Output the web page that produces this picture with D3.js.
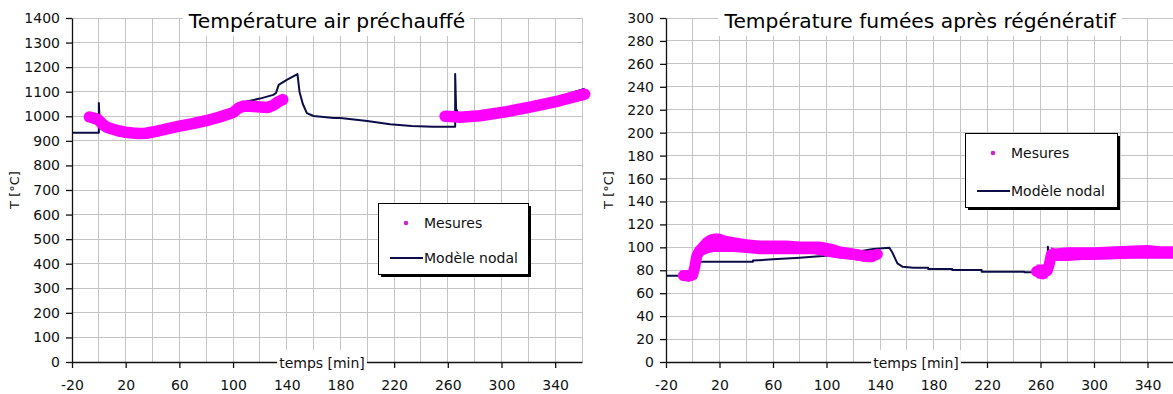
<!DOCTYPE html>
<html><head><meta charset="utf-8">
<script src="https://cdn.jsdelivr.net/npm/d3@7"></script>
<style>
body{margin:0;background:#fff;}
svg{display:block;font-family:"DejaVu Sans",Verdana,sans-serif;}
</style>
</head><body>
<svg id="c" width="1173" height="394"></svg>
<script>
// ---------- data ----------
const xTickValues = [-20,20,60,100,140,180,220,260,300,340];
const xGridValues = [0,20,40,60,80,100,120,140,160,180,200,220,240,260,280,300,320,340,360];
const airTickValues = [0,100,200,300,400,500,600,700,800,900,1000,1100,1200,1300,1400];
const fumTickValues = [0,20,40,60,80,100,120,140,160,180,200,220,240,260,280,300];
const titles = ["Température air préchauffé", "Température fumées après régénératif"];
const legendLabels = ["Mesures", "Modèle nodal"];
const xLabel = "temps [min]";
const yLabel = "T [°C]";

// Left chart: model [t, T]
const airModel = [[-20,933],[0,933],[0,1054],[0.6,985],[2,972],[5,957],[10,942],[15,930],[20,925],[30,922],[40,928],[50,940],[60,955],[70,966],[80,978],[90,995],[100,1030],[104,1045],[110,1060],[120,1072],[130,1087],[132,1095],[134,1128],[140,1148],[148,1172],[149.5,1100],[152,1050],[155,1013],[160,1001],[175,993],[180,993],[200,981],[217,968],[233,960],[249,957],[265.5,957],[265.5,1172],[266.2,1030],[268,1010],[272,998],[285,1003],[300,1018],[320,1045],[340,1075],[362,1112]];
// Left chart: measurements [t, T], first and second runs
const airMes1 = [[-7,997],[-4,993],[-1,988],[1,978],[3,966],[6,955],[10,948],[15,940],[20,935],[25,932],[30,930],[35,931],[40,936],[50,948],[60,960],[70,970],[80,982],[90,997],[100,1015],[104,1033],[108,1042],[115,1040],[120,1038],[126,1036],[130,1045],[134,1060],[137,1068]];
const airMes2 = [[258,1000],[262,999],[269,996],[284,1002],[304,1019],[323,1039],[343,1063],[362,1090]];

// Right chart: model [t, T]
const fumModel = [[-20,75.3],[-7.5,75.3],[-1,76],[0,80],[1.5,88],[3,89],[5,87.5],[45,87.5],[45,88.5],[60,89.5],[80,91],[97,92.4],[110,94],[125,96.5],[135,98.5],[147,99.7],[149,96],[151,91],[153,86],[157,83],[165,82.2],[176,82.2],[176,81],[194,81],[194,80.2],[216,80.2],[216,78.8],[248,78.8],[248,78.2],[256,78.2],[256,77.4],[265.5,77.4],[265.5,100.5],[266.5,93],[270,93],[300,94.5],[330,95.5],[362,96.5]];
// Right chart: measurements [t, low, high] of the scattered band
const fumMes1 = [[-7,71,80],[-3,70,80],[0,71,81],[1.5,76,90],[3,85,100],[5,90,104],[8,93,108],[12,95,111],[16,96,112],[20,96,112],[25,96,110],[30,96,109],[40,95,107],[50,94,106],[60,94,106],[70,94,106],[80,94,105],[90,94,105],[95,93,105],[100,92,104],[105,91,103],[110,90,101],[120,89,99],[130,87,97],[135,87,98],[138,90,98]];
const fumMes2 = [[257,73,85],[262,72,85],[265,73,86],[266.5,78,92],[268,87,100],[271,88,99],[280,88,100],[291,89,100],[300,89,100],[316,89.5,101],[330,90,101.5],[340,90,102],[350,90,101],[362,90,101]];

// ---------- drawing ----------
const svg = d3.select("#c");
const MODEL = "#0c0c48", MES = "#ff00ff", GRID = "#c4c4c4";
const fmt = d => String(d);

const panels = [
  {x0:72, x1:582, yMax:1400, yTicks:airTickValues, model:airModel, mes:[airMes1,airMes2], band:false,
   title:titles[0], ylabX:19, legend:{x:378,y:203,w:150,h:71}},
  {x0:666, x1:1174.25, yMax:300, yTicks:fumTickValues, model:fumModel, mes:[fumMes1,fumMes2], band:true,
   title:titles[1], ylabX:613, legend:{x:965,y:133,w:152,h:74}}
];
const plotTop = 18, plotBottom = 362;

panels.forEach(p => {
  const x = d3.scaleLinear().domain([-20,360]).range([p.x0,p.x1]);
  const y = d3.scaleLinear().domain([0,p.yMax]).range([plotBottom,plotTop]);
  const g = svg.append("g");

  // grid
  g.append("g").selectAll("line").data(xGridValues).join("line")
    .attr("x1",d=>x(d)).attr("x2",d=>x(d)).attr("y1",plotTop).attr("y2",plotBottom)
    .attr("stroke",GRID).attr("stroke-width",1).attr("shape-rendering","crispEdges");
  g.append("g").selectAll("line").data(p.yTicks.filter(d=>d>0)).join("line")
    .attr("x1",p.x0).attr("x2",p.x1).attr("y1",d=>y(d)).attr("y2",d=>y(d))
    .attr("stroke",GRID).attr("stroke-width",1).attr("shape-rendering","crispEdges");

  // model line
  const line = d3.line().x(d=>x(d[0])).y(d=>y(d[1]));
  g.append("path").datum(p.model).attr("d",line)
    .attr("fill","none").attr("stroke",MODEL).attr("stroke-width",2).attr("stroke-linejoin","round");

  // measurements
  p.mes.forEach(seg => {
    if (p.band) {
      const area = d3.area().x(d=>x(d[0])).y0(d=>y(d[1])).y1(d=>y(d[2]));
      g.append("path").datum(seg).attr("d",area).attr("fill",MES);
      const mid = d3.line().x(d=>x(d[0])).y(d=>y((d[1]+d[2])/2));
      g.append("path").datum(seg).attr("d",mid).attr("fill","none")
        .attr("stroke",MES).attr("stroke-width",11).attr("stroke-linecap","round").attr("stroke-linejoin","round");
    } else {
      g.append("path").datum(seg).attr("d",line).attr("fill","none")
        .attr("stroke",MES).attr("stroke-width",11.5).attr("stroke-linecap","round").attr("stroke-linejoin","round");
    }
  });

  // axes
  const ya = g.append("g").attr("transform",`translate(${p.x0},0)`)
    .call(d3.axisLeft(y).tickValues(p.yTicks).tickSize(6).tickSizeOuter(0).tickPadding(6).tickFormat(fmt));
  const xa = g.append("g").attr("transform",`translate(0,${plotBottom})`)
    .call(d3.axisBottom(x).tickValues(xTickValues).tickSize(6).tickSizeOuter(0).tickPadding(12).tickFormat(fmt));
  [ya,xa].forEach(a=>{
    a.selectAll("text").attr("font-size",14).attr("fill","#111").attr("font-family","DejaVu Sans, Verdana, sans-serif");
    a.selectAll("line,path").attr("stroke","#111").attr("stroke-width",1.3);
  });

  // x axis label with white background
  const cx = p.x0 + 250;
  const xl = g.append("text").attr("x",cx).attr("y",368).attr("text-anchor","middle")
    .attr("font-size",14).attr("fill","#111").text(xLabel);
  const xb = xl.node().getBBox();
  g.insert("rect", () => xl.node()).attr("x",xb.x-2).attr("y",350).attr("width",xb.width+4).attr("height",26).attr("fill","#fff");

  // y label
  g.append("text").attr("transform",`translate(${p.ylabX},${(plotTop+plotBottom)/2}) rotate(-90)`)
    .attr("text-anchor","middle").attr("font-size",13).attr("fill","#111").text(yLabel);

  // title with white background
  const tcx = (p.x0+p.x1)/2;
  const tt = g.append("text").attr("x",tcx).attr("y",28).attr("text-anchor","middle")
    .attr("font-size",20.25).attr("fill","#000").text(p.title);
  const tb = tt.node().getBBox();
  g.insert("rect", () => tt.node()).attr("x",tb.x-5).attr("y",0).attr("width",tb.width+10).attr("height",36).attr("fill","#fff");

  // legend
  const L = p.legend;
  const lg = g.append("g").attr("transform",`translate(${L.x},${L.y})`);
  lg.append("rect").attr("x",3).attr("y",3).attr("width",L.w).attr("height",L.h).attr("fill","#000");
  lg.append("rect").attr("x",0.5).attr("y",0.5).attr("width",L.w).attr("height",L.h).attr("fill","#fff").attr("stroke","#000").attr("stroke-width",1);
  lg.append("circle").attr("cx",28).attr("cy",20).attr("r",2.3).attr("fill","#c828c8");
  lg.append("text").attr("x",46).attr("y",25).attr("font-size",14).attr("fill","#111").text(legendLabels[0]);
  lg.append("line").attr("x1",12).attr("x2",45).attr("y1",L.h-16).attr("y2",L.h-16).attr("stroke",MODEL).attr("stroke-width",2);
  lg.append("text").attr("x",46).attr("y",L.h-11).attr("font-size",14).attr("fill","#111").text(legendLabels[1]);
});
</script>
</body></html>
